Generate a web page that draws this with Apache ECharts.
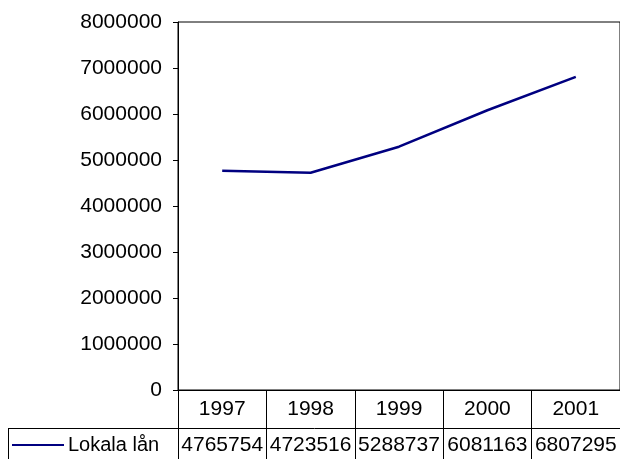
<!DOCTYPE html>
<html><head><meta charset="utf-8">
<script src="https://cdn.jsdelivr.net/npm/echarts@6/dist/echarts.min.js"></script>
<style>html,body{margin:0;padding:0;background:#fff}#c{width:620px;height:459px}</style>
</head><body><div id="c"></div>
<script>
const years = ['1997','1998','1999','2000','2001'];
const lokalaLan = [4765754, 4723516, 5288737, 6081163, 6807295];
const seriesName = 'Lokala lån';
const yTicks = {min: 0, max: 8000000, interval: 1000000};

const FONT = 'Liberation Sans, Arial, sans-serif';
const NUMSIZE = 21;
const chart = echarts.init(document.getElementById('c'), null, {renderer: 'canvas'});
chart.setOption({
  animation: false,
  backgroundColor: '#fff',
  grid: {left: 178, top: 22, width: 444, height: 368, show: true, borderColor: '#000', borderWidth: 1, backgroundColor: 'transparent'},
  legend: {
    left: 12, top: 435, itemWidth: 52, itemHeight: 2, itemGap: 4, padding: 0,
    textStyle: {fontFamily: FONT, fontSize: 20, color: '#000', padding: [0, 0, 0, -1]},
    data: [{name: seriesName, icon: 'rect'}],
    itemStyle: {color: '#000080'}
  },
  xAxis: [{
    type: 'category', data: years, boundaryGap: true,
    axisLine: {show: true, lineStyle: {color: '#000', width: 1}},
    axisTick: {show: true, length: 69, lineStyle: {color: '#000', width: 1}},
    axisLabel: {fontFamily: FONT, fontSize: NUMSIZE, color: '#000', margin: 9, interval: 0},
    splitLine: {show: false}
  }, {
    type: 'category', data: lokalaLan.map(String), position: 'bottom', offset: 38,
    axisLine: {show: false}, axisTick: {show: false},
    axisLabel: {fontFamily: FONT, fontSize: NUMSIZE, color: '#000', margin: 7, interval: 0, hideOverlap: false},
    splitLine: {show: false}
  }],
  yAxis: {
    type: 'value', min: yTicks.min, max: yTicks.max, interval: yTicks.interval,
    axisLine: {show: true, lineStyle: {color: '#000', width: 1}},
    axisTick: {show: true, length: 5, lineStyle: {color: '#000'}},
    axisLabel: {fontFamily: FONT, fontSize: NUMSIZE, color: '#000', margin: 16, formatter: v => String(v)},
    splitLine: {show: false}
  },
  series: [{
    name: seriesName, type: 'line', data: lokalaLan, xAxisIndex: 0,
    symbol: 'none', lineStyle: {color: '#000080', width: 2.5}, itemStyle: {color: '#000080'}
  }],
  graphic: [
    {type: 'line', shape: {x1: 8, y1: 428.5, x2: 622, y2: 428.5}, style: {stroke: '#000', lineWidth: 1}},
    {type: 'line', shape: {x1: 8.5, y1: 428, x2: 8.5, y2: 459}, style: {stroke: '#000', lineWidth: 1}}
  ]
});
</script></body></html>
